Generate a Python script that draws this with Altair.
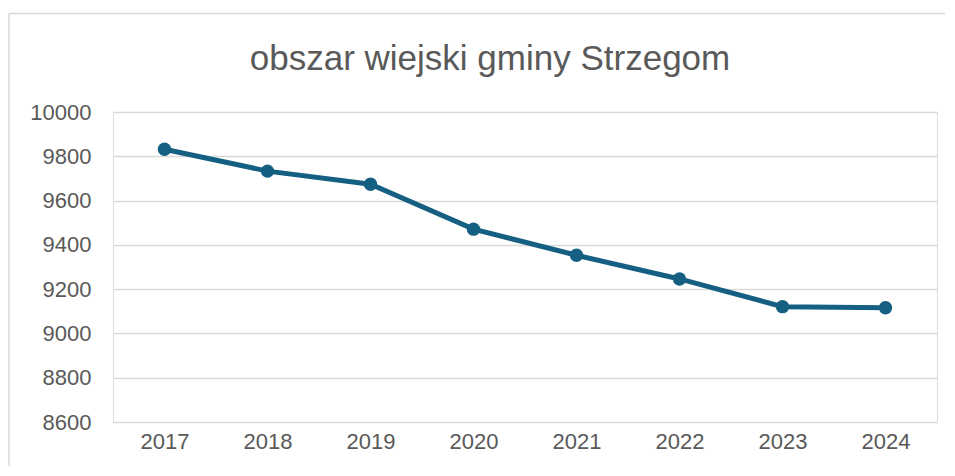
import altair as alt
import pandas as pd

years = ["2017", "2018", "2019", "2020", "2021", "2022", "2023", "2024"]
values = [9832, 9733, 9674, 9471, 9353, 9246, 9121, 9116]
y_ticks = [8600, 8800, 9000, 9200, 9400, 9600, 9800, 10000]
title_text = "obszar wiejski gminy Strzegom"

df = pd.DataFrame({"year": years, "value": values})

W, H = 824, 310
FONT = "Liberation Sans"
GRAY = "#595959"
LINE = "#156082"
BORDER = "#d9d9d9"

x_enc = alt.X("year:N", sort=years,
              scale=alt.Scale(type="point", padding=0.5),
              axis=alt.Axis(title=None, labelAngle=0, labelFontSize=22, labelFont=FONT,
                            labelColor=GRAY, domain=False, ticks=False, grid=False,
                            labelPadding=9))
y_enc = alt.Y("value:Q",
              scale=alt.Scale(domain=[8600, 10000], nice=False, zero=False),
              axis=alt.Axis(title=None, values=y_ticks, format="d", labelFontSize=22,
                            labelFont=FONT, labelColor=GRAY, domain=False, ticks=False,
                            grid=True, gridColor=BORDER, gridWidth=1.5, labelPadding=22))

one = pd.DataFrame({"a": [0]})
border_top = alt.Chart(one).mark_rule(color=BORDER, strokeWidth=1.5, clip=False).encode(
    x=alt.value(-104), x2=alt.value(W + 100), y=alt.value(-98.5))
border_left = alt.Chart(one).mark_rule(color=BORDER, strokeWidth=1.5, clip=False).encode(
    x=alt.value(-104), y=alt.value(-98.5), y2=alt.value(H + 100))

line = alt.Chart(df).mark_line(color=LINE, strokeWidth=5).encode(x=x_enc, y=y_enc)
points = alt.Chart(df).mark_point(filled=True, color=LINE, size=180, opacity=1).encode(x=x_enc, y=y_enc)

title = alt.Chart(pd.DataFrame({"t": [title_text]})).mark_text(
    font=FONT, fontSize=35, color=GRAY, align="center", baseline="alphabetic"
).encode(x=alt.value(377), y=alt.value(-42), text="t:N")

chart = alt.layer(border_top, border_left, line, points, title).properties(
    width=W, height=H,
    autosize=alt.AutoSizeParams(type="none"),
    padding={"left": 105, "top": 104, "right": 8, "bottom": 44},
).configure_view(stroke="transparent", strokeWidth=0).configure(background="white")

chart.save("out.html", embed_options={"renderer": "svg", "actions": False})
